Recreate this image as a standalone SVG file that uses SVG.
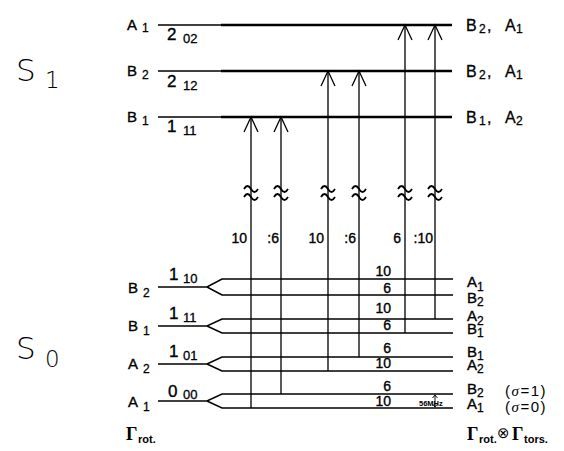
<svg xmlns="http://www.w3.org/2000/svg" width="564" height="451" viewBox="0 0 564 451">
<style>
text{font-family:"Liberation Sans",Arial,sans-serif;fill:#000}
.sym{font-size:15px;stroke:#000;stroke-width:0.35}
.sub{font-size:12px;stroke:#000;stroke-width:0.3}
.qn{font-size:17px;stroke:#000;stroke-width:0.35}
.qs{font-size:13px;stroke:#000;stroke-width:0.3}
.rs{font-size:16px;stroke:#000;stroke-width:0.3}
.rsub{font-size:12px;stroke:#000;stroke-width:0.3}
.num{font-size:14px;text-anchor:end;stroke:#000;stroke-width:0.35}
.big{font-family:"DejaVu Sans","Liberation Sans",sans-serif;font-size:31px;font-weight:200}
.bigs{font-family:"DejaVu Sans","Liberation Sans",sans-serif;font-size:23px;font-weight:200}
.gam{font-family:"Liberation Serif","Times New Roman",serif;font-weight:bold;font-size:18px}
.gsub{font-size:11px;font-weight:bold}
.sig{font-family:"Liberation Sans",Arial,sans-serif;font-size:15px;letter-spacing:1.5px}
.thin{stroke:#000;stroke-width:1.3;fill:none}
.thick{stroke:#000;stroke-width:2.6;fill:none}
.lev{stroke:#000;stroke-width:1.5;fill:none}
.vert{stroke:#000;stroke-width:1.3;fill:none}
.head{stroke:#000;stroke-width:1.3;fill:none}
.sq{stroke:#000;stroke-width:1.8;fill:none}
</style>
<defs>
<path id="squig" d="M-7,-3 q3.5,-6 7,0 t7,0 M-7,5 q3.5,-6 7,0 t7,0"/>
</defs>

<g id="S1"><text class="big" x="16" y="81">S</text><text class="bigs" x="45" y="88">1</text></g>
<g id="S0"><text class="big" x="16" y="359">S</text><text class="bigs" x="45" y="367">0</text></g>

<!-- upper levels -->
<g id="lev-202">
<line class="thin" x1="158" y1="25" x2="221" y2="25"/>
<line class="thick" x1="221" y1="25" x2="452" y2="25"/>
<text class="sym" x="127" y="30">A</text><text class="sub" x="142" y="32">1</text>
<text class="qn" x="167" y="40">2</text><text class="qs" x="183" y="43">02</text>
<text class="rs" x="466" y="31">B</text><text class="rsub" x="479" y="33">2</text><text class="rs" x="487" y="31">,</text>
<text class="rs" x="505" y="31">A</text><text class="rsub" x="516" y="33">1</text>
</g>
<g id="lev-212">
<line class="thin" x1="158" y1="71" x2="221" y2="71"/>
<line class="thick" x1="221" y1="71" x2="452" y2="71"/>
<text class="sym" x="127" y="76">B</text><text class="sub" x="142" y="79">2</text>
<text class="qn" x="167" y="87">2</text><text class="qs" x="183" y="90">12</text>
<text class="rs" x="466" y="77">B</text><text class="rsub" x="479" y="79">2</text><text class="rs" x="487" y="77">,</text>
<text class="rs" x="505" y="77">A</text><text class="rsub" x="516" y="79">1</text>
</g>
<g id="lev-111u">
<line class="thin" x1="158" y1="117" x2="221" y2="117"/>
<line class="thick" x1="221" y1="117" x2="452" y2="117"/>
<text class="sym" x="127" y="122">B</text><text class="sub" x="142" y="125">1</text>
<text class="qn" x="167" y="132">1</text><text class="qs" x="183" y="135">11</text>
<text class="rs" x="466" y="123">B</text><text class="rsub" x="479" y="125">1</text><text class="rs" x="487" y="123">,</text>
<text class="rs" x="505" y="123">A</text><text class="rsub" x="516" y="125">2</text>
</g>

<!-- lower levels -->
<g id="lev-110">
<path class="lev" d="M158,287 H207 L222,279 H453 M207,287 L222,295 H453"/>
<text class="sym" x="128" y="293">B</text><text class="sub" x="143" y="297">2</text>
<text class="qn" x="169" y="280">1</text><text class="qs" x="183" y="283">10</text>
<text class="num" x="391" y="276">10</text><text class="num" x="391" y="293">6</text>
<text class="sym" x="467" y="287">A</text><text class="sub" x="477" y="291">1</text>
<text class="sym" x="467" y="303">B</text><text class="sub" x="477" y="306">2</text>
</g>
<g id="lev-111l">
<path class="lev" d="M158,326 H207 L222,319 H453 M207,326 L222,333 H453"/>
<text class="sym" x="128" y="331">B</text><text class="sub" x="143" y="335">1</text>
<text class="qn" x="169" y="319">1</text><text class="qs" x="183" y="322">11</text>
<text class="num" x="391" y="313">10</text><text class="num" x="391" y="330">6</text>
<text class="sym" x="467" y="321">A</text><text class="sub" x="477" y="325">2</text>
<text class="sym" x="467" y="334">B</text><text class="sub" x="477" y="337">1</text>
</g>
<g id="lev-101">
<path class="lev" d="M158,364 H207 L222,357 H453 M207,364 L222,371 H453"/>
<text class="sym" x="128" y="369">A</text><text class="sub" x="143" y="373">2</text>
<text class="qn" x="169" y="357">1</text><text class="qs" x="183" y="360">01</text>
<text class="num" x="391" y="353">6</text><text class="num" x="391" y="368">10</text>
<text class="sym" x="467" y="357">B</text><text class="sub" x="477" y="360">1</text>
<text class="sym" x="467" y="370">A</text><text class="sub" x="477" y="373">2</text>
</g>
<g id="lev-000">
<path class="lev" d="M158,401 H207 L222,394 H453 M207,401 L222,408 H453"/>
<text class="sym" x="128" y="407">A</text><text class="sub" x="143" y="411">1</text>
<text class="qn" x="168" y="397">0</text><text class="qs" x="183" y="399">00</text>
<text class="num" x="391" y="391">6</text><text class="num" x="391" y="406">10</text>
<text class="sym" x="467" y="394">B</text><text class="sub" x="477" y="397">2</text>
<text class="sym" x="467" y="409">A</text><text class="sub" x="477" y="412">1</text>
<text class="sig" x="505" y="396">(<tspan font-family="Liberation Serif,serif" font-style="italic">σ</tspan>=1)</text>
<text class="sig" x="505" y="412">(<tspan font-family="Liberation Serif,serif" font-style="italic">σ</tspan>=0)</text>
<g id="split">
<text x="419" y="406" style="font-size:7.5px;font-weight:bold">56MHz</text>
<path class="thin" d="M435,395 V407 M432.5,398 L435,395 L437.5,398 M432.5,404 L435,407 L437.5,404" style="stroke-width:0.9"/>
</g>
</g>

<g id="connectors">
<path class="vert" d="M251,408 V117 M281,394 V117 M328,371 V71 M359,357 V71 M405,333 V25 M435,319 V25"/>
<path class="head" d="M244,132 L251,117 L258,132 M274,132 L281,117 L288,132 M321,86 L328,71 L335,86 M352,86 L359,71 L366,86 M398,40 L405,25 L412,40 M428,40 L435,25 L442,40"/>
<g class="sq">
<use href="#squig" x="251" y="192"/><use href="#squig" x="281" y="192"/>
<use href="#squig" x="328" y="192"/><use href="#squig" x="359" y="192"/>
<use href="#squig" x="405" y="192"/><use href="#squig" x="435" y="192"/>
</g>
<text class="num" x="247" y="243">10</text><text class="num" x="279" y="243">:6</text>
<text class="num" x="324" y="243">10</text><text class="num" x="356" y="243">:6</text>
<text class="num" x="401" y="243">6</text><text class="num" x="433" y="243">:10</text>
</g>

<g id="gamma-rot"><text class="gam" x="126" y="440">Γ</text><text class="gsub" x="138" y="443">rot.</text></g>
<g id="gamma-prod"><text class="gam" x="467" y="440">Γ</text><text class="gsub" x="479" y="443">rot.</text>
<text x="497" y="438" style="font-family:'DejaVu Sans',sans-serif;font-size:15px">⊗</text>
<text class="gam" x="512" y="440">Γ</text><text class="gsub" x="524" y="443">tors.</text></g>
</svg>
